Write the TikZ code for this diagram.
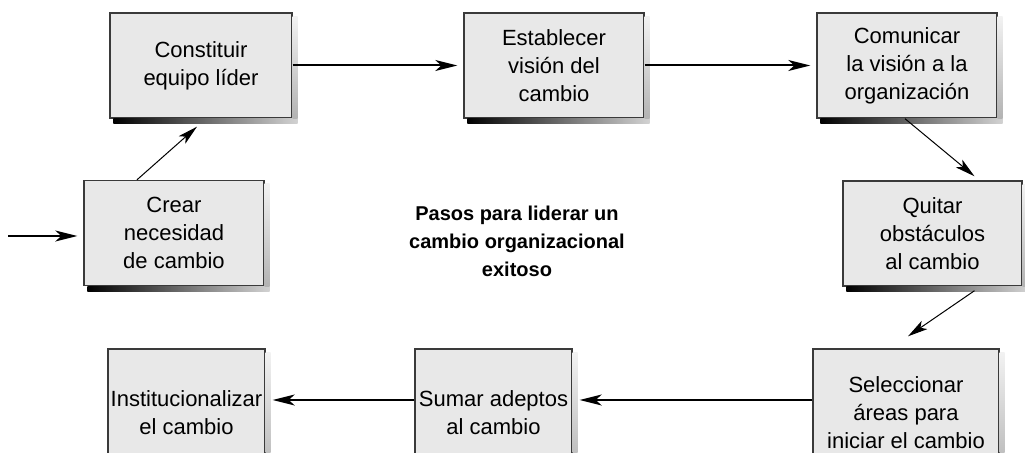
\documentclass[tikz,border=0pt]{standalone}
\usepackage{fontspec}
\setmainfont{Liberation Sans}
\usetikzlibrary{arrows.meta}
\definecolor{cajagris}{HTML}{E8E8E8}
\definecolor{bordegris}{HTML}{3A3A3A}
\tikzset{
  paso/.style={draw=bordegris,line width=0.7pt,fill=cajagris,align=center,inner sep=0pt,
    minimum height=52.5pt,font=\fontsize{11}{14}\selectfont},
  flecha/.style={line width=1pt,-{Stealth[length=11pt,width=5.5pt,inset=3pt]}},
  flechita/.style={line width=0.5pt,-{Stealth[length=10pt,width=5pt,inset=2.5pt]}}
}
\begin{document}
\begin{tikzpicture}[x=0.5pt,y=-0.5pt]
\useasboundingbox (0,0) rectangle (1025,453);
\node[paso,minimum width=90pt] (crear) at (174,233) {Crear\\necesidad\\de cambio};
\node[paso,minimum width=91pt] (constituir) at (201,65.5) {Constituir\\equipo líder};
\node[paso,minimum width=90pt] (establecer) at (554,65.5) {Establecer\\visión del\\cambio};
\node[paso,minimum width=90pt] (comunicar) at (907,65.5) {Comunicar\\la visión a la\\organización};
\node[paso,minimum width=89.5pt] (quitar) at (932.5,233.5) {Quitar\\obstáculos\\al cambio};
\node[paso,minimum width=93pt,minimum height=64pt] (seleccionar) at (906,413) {Seleccionar\\áreas para\\iniciar el cambio};
\node[paso,minimum width=78.5pt,minimum height=64pt] (sumar) at (493.5,413) {Sumar adeptos\\al cambio};
\node[paso,minimum width=78.5pt,minimum height=64pt] (instit) at (186.5,413) {Institucionalizar\\el cambio};
\foreach \n in {crear,constituir,establecer,comunicar,quitar,seleccionar,sumar,instit}{
  \shade[left color=black,right color=gray!35] ([xshift=2pt]\n.south west) rectangle ([xshift=2.5pt,yshift=-2.5pt]\n.south east);
  \shade[top color=gray!10,bottom color=gray!60] ([yshift=-2pt]\n.north east) rectangle ([xshift=2.5pt]\n.south east);
}
\node[font=\bfseries\fontsize{10}{14}\selectfont,align=center] (titulo) at (517,241) {Pasos para liderar un\\cambio organizacional\\exitoso};
\coordinate (entrada) at (8,236);
\draw[flecha,shorten >=3pt] (entrada) -- (entrada -| crear.west);
\draw[flechita] ([xshift=-18.5pt]crear.north) -- ([xshift=-2pt,yshift=-4pt]constituir.south);
\draw[flecha,shorten >=3pt] (constituir.east) -- (establecer.west);
\draw[flecha,shorten >=3pt] (establecer.east) -- (comunicar.west);
\draw[flechita] ([xshift=-1pt]comunicar.south) -- ([xshift=21pt,yshift=2pt]quitar.north);
\draw[flechita] ([xshift=21pt,yshift=-2pt]quitar.south) -- ([xshift=1pt,yshift=6pt]seleccionar.north);
\draw[flecha,shorten >=3.5pt] ([yshift=6.5pt]seleccionar.west) -- ([yshift=6.5pt]sumar.east);
\draw[flecha,shorten >=3.5pt] ([yshift=6.5pt]sumar.west) -- ([yshift=6.5pt]instit.east);
\end{tikzpicture}
\end{document}
